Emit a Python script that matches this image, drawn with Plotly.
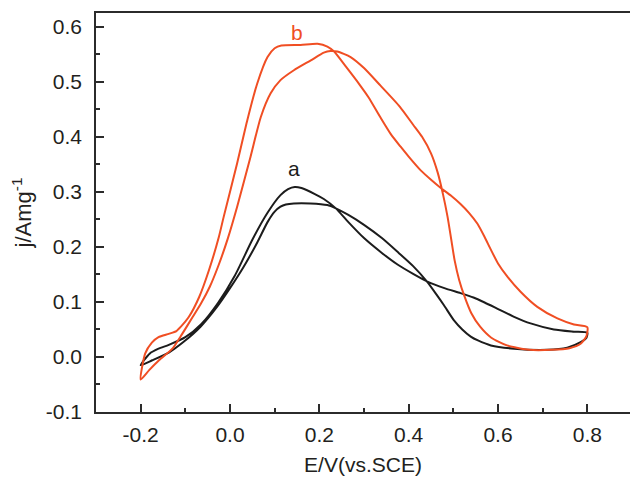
import plotly.graph_objects as go

# curve a (black): forward scan -0.2 -> 0.8, then reverse scan 0.8 -> -0.2
a_fwd_e = [-0.2, -0.18, -0.16, -0.137, -0.1, -0.064, -0.027, 0.011, 0.05, 0.084, 0.113, 0.13,
           0.145, 0.16, 0.19, 0.21, 0.237, 0.265, 0.3, 0.34, 0.375, 0.41, 0.442, 0.48, 0.516,
           0.545, 0.57, 0.598, 0.636, 0.673, 0.725, 0.77, 0.8]
a_fwd_j = [-0.015, 0.006, 0.015, 0.022, 0.036, 0.06, 0.098, 0.148, 0.213, 0.262, 0.294, 0.305,
           0.309, 0.307, 0.296, 0.287, 0.27, 0.245, 0.216, 0.189, 0.168, 0.151, 0.137, 0.125, 0.116,
           0.108, 0.099, 0.088, 0.073, 0.061, 0.05, 0.046, 0.044]
a_rev_e = [0.798, 0.785, 0.755, 0.71, 0.636, 0.584, 0.555, 0.539, 0.52, 0.501, 0.479, 0.46, 0.442,
           0.41, 0.375, 0.34, 0.3, 0.265, 0.237, 0.218, 0.18, 0.143, 0.125, 0.113, 0.1, 0.084,
           0.061, 0.03, 0.0, -0.03, -0.066, -0.103, -0.137, -0.174, -0.2]
a_rev_j = [0.035, 0.027, 0.017, 0.013, 0.015, 0.021, 0.03, 0.037, 0.05, 0.067, 0.094, 0.116, 0.136,
           0.165, 0.191, 0.216, 0.24, 0.258, 0.27, 0.276, 0.279, 0.279, 0.277, 0.273, 0.264, 0.245,
           0.208, 0.163, 0.125, 0.09, 0.055, 0.028, 0.008, -0.006, -0.015]

# curve b (orange)
b_fwd_e = [-0.2, -0.19, -0.175, -0.16, -0.137, -0.12, -0.11, -0.092, -0.069, -0.047, -0.025, -0.014,
           0.016, 0.039, 0.061, 0.084, 0.1, 0.115, 0.158, 0.196, 0.218, 0.233, 0.26, 0.29, 0.31,
           0.337, 0.36, 0.382, 0.4, 0.427, 0.45, 0.472, 0.495, 0.516, 0.535, 0.554, 0.57, 0.584,
           0.6, 0.621, 0.651, 0.688, 0.733, 0.77, 0.8]
b_fwd_j = [-0.041, 0.006, 0.026, 0.036, 0.042, 0.047, 0.055, 0.073, 0.109, 0.158, 0.218, 0.255,
           0.352, 0.431, 0.497, 0.545, 0.561, 0.566, 0.567, 0.569, 0.564, 0.555, 0.527, 0.495, 0.472,
           0.435, 0.405, 0.382, 0.364, 0.339, 0.322, 0.307, 0.293, 0.278, 0.262, 0.242, 0.218, 0.195,
           0.17, 0.146, 0.118, 0.091, 0.07, 0.059, 0.054]
b_rev_e = [0.798, 0.785, 0.76, 0.72, 0.67, 0.62, 0.585, 0.56, 0.54, 0.525, 0.513, 0.503, 0.495,
           0.487, 0.477, 0.465, 0.45, 0.43, 0.41, 0.38, 0.337, 0.3, 0.27, 0.24, 0.225, 0.21, 0.181,
           0.143, 0.113, 0.091, 0.069, 0.046, 0.016, -0.005, -0.025, -0.045, -0.065, -0.084,
           -0.107, -0.129, -0.159, -0.181, -0.2]
b_rev_j = [0.038, 0.024, 0.016, 0.013, 0.013, 0.021, 0.035, 0.055, 0.08, 0.11, 0.14, 0.175, 0.215,
           0.255, 0.295, 0.335, 0.37, 0.4, 0.422, 0.455, 0.493, 0.525, 0.545, 0.555, 0.556, 0.553,
           0.539, 0.521, 0.503, 0.479, 0.436, 0.364, 0.273, 0.215, 0.168, 0.128, 0.097, 0.072,
           0.042, 0.015, -0.006, -0.024, -0.041]

x_ticks = [-0.2, 0.0, 0.2, 0.4, 0.6, 0.8]
y_ticks = [-0.1, 0.0, 0.1, 0.2, 0.3, 0.4, 0.5, 0.6]

BLACK = "#1c1c1c"
ORANGE = "#f04e23"
AXIS = "#2b2b2b"
FONT = "Liberation Sans, Arial, sans-serif"

fig = go.Figure()
fig.add_trace(go.Scatter(x=a_fwd_e + a_rev_e, y=a_fwd_j + a_rev_j, mode="lines",
                         line=dict(color=BLACK, width=2, shape="spline", smoothing=0.6)))
fig.add_trace(go.Scatter(x=b_fwd_e + b_rev_e, y=b_fwd_j + b_rev_j, mode="lines",
                         line=dict(color=ORANGE, width=2, shape="spline", smoothing=0.6)))

fig.add_annotation(x=0.1425, y=0.343, text="a", showarrow=False,
                   font=dict(size=21, color=BLACK, family=FONT))
fig.add_annotation(x=0.151, y=0.589, text="b", showarrow=False,
                   font=dict(size=21, color=ORANGE, family=FONT))

axis_common = dict(showline=True, linecolor=AXIS, linewidth=1.5, ticks="inside",
                   tickcolor=AXIS, tickwidth=1.5, ticklen=8, showgrid=False, zeroline=False,
                   tickfont=dict(size=21, color="#231f20", family=FONT))

fig.update_layout(
    width=630, height=478,
    margin=dict(l=96, r=0, t=13, b=66),
    paper_bgcolor="white", plot_bgcolor="white",
    showlegend=False,
    font=dict(family=FONT, color="#231f20"),
    xaxis=dict(range=[-0.3, 0.8955], tickvals=x_ticks, ticktext=[f"{v:.1f}" for v in x_ticks],
               mirror=True, ticklabelstandoff=3,
               minor=dict(ticks="inside", ticklen=4, tickwidth=1.5, tickcolor=AXIS, dtick=0.1,
                          tick0=-0.3, showgrid=False),
               title=dict(text="E/V(vs.SCE)", font=dict(size=21), standoff=12),
               **axis_common),
    yaxis=dict(range=[-0.1, 0.625], tickvals=y_ticks, ticktext=[f"{v:.1f}" for v in y_ticks],
               ticklabelstandoff=8,
               minor=dict(ticks="inside", ticklen=4, tickwidth=1.5, tickcolor=AXIS, dtick=0.05,
                          tick0=-0.1, showgrid=False),
               title=dict(text="j/Amg<sup>-1</sup>", font=dict(size=22), standoff=8),
               **axis_common),
)

fig.write_html("out.html", config={"displayModeBar": False},
               post_script="document.body.style.margin='0px';")
